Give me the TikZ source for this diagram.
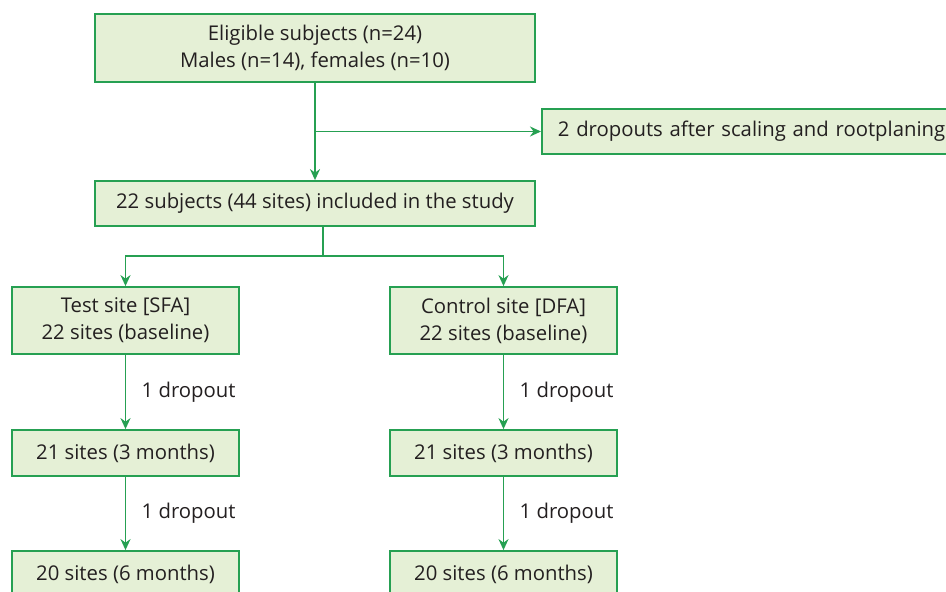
\documentclass[tikz,border=0pt]{standalone}
\usepackage{fontspec}
\setmainfont{Open Sans}
\usepackage{tikz}
\usetikzlibrary{arrows.meta}

\definecolor{boxfill}{RGB}{229,240,214}
\definecolor{boxline}{RGB}{38,160,82}
\definecolor{txt}{RGB}{35,31,32}

\tikzset{
  box/.style={draw=boxline, fill=boxfill, line width=1.8pt, align=center,
    text=txt, inner sep=0pt, font=\fontsize{20.3}{27}\selectfont},
  link/.style={draw=boxline, line width=1.8pt},
  note/.style={text=txt, font=\fontsize{20.3}{27}\selectfont}
}

\begin{document}
\begin{tikzpicture}[x=1pt, y=-1pt, >={Stealth[length=11pt, width=10pt]}]
		\useasboundingbox (0,0) rectangle (946,592);
		\clip (0,0) rectangle (946,592);

		% boxes
		\node[box, minimum width=440, minimum height=68] (elig) at (315,48) {Eligible subjects (n=24)\\Males (n=14), females (n=10)};
		\node[box, anchor=west, minimum width=420, minimum height=45, text width=420, align=left, inner xsep=16pt] (drop) at (541,131.5) {2 dropouts after scaling and rootplaning};
		\node[box, minimum width=440, minimum height=45] (incl) at (315,203.5) {22 subjects (44 sites) included in the study};

		\node[box, minimum width=227, minimum height=67] (test) at (125.5,320.5) {Test site [SFA]\\22 sites (baseline)};
		\node[box, minimum width=227, minimum height=46] (test3) at (125.5,453) {21 sites (3 months)};
		\node[box, minimum width=227, minimum height=46] (test6) at (125.5,574) {20 sites (6 months)};

		\node[box, minimum width=227, minimum height=67] (ctrl) at (503.5,320.5) {Control site [DFA]\\22 sites (baseline)};
		\node[box, minimum width=227, minimum height=46] (ctrl3) at (503.5,453) {21 sites (3 months)};
		\node[box, minimum width=227, minimum height=46] (ctrl6) at (503.5,574) {20 sites (6 months)};

		% arrows
		\draw[link, ->] (elig) -- (incl);
		\draw[link, ->] (elig.south |- drop.west) -- (drop.west);

		\coordinate (split) at (323,256);
		\draw[link] (incl.south -| split) -- (split);
		\draw[link, ->] (split) -| (test);
		\draw[link, ->] (split) -| (ctrl);

		\draw[link, ->] (test) -- node[note, right=12pt] {1 dropout} (test3);
		\draw[link, ->] (test3) -- node[note, right=12pt] {1 dropout} (test6);
		\draw[link, ->] (ctrl) -- node[note, right=12pt] {1 dropout} (ctrl3);
		\draw[link, ->] (ctrl3) -- node[note, right=12pt] {1 dropout} (ctrl6);
	\end{tikzpicture}
\end{document}
